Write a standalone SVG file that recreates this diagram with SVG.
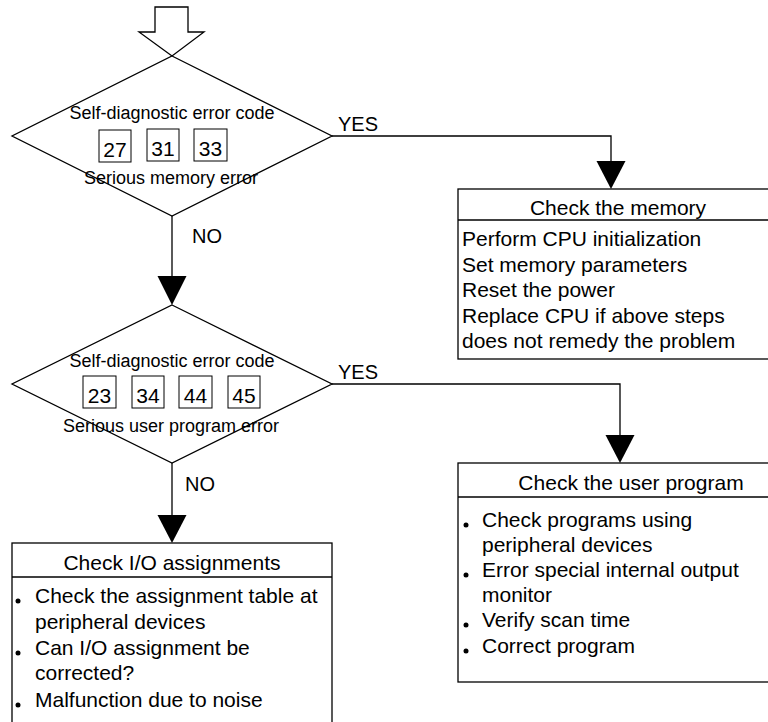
<svg xmlns="http://www.w3.org/2000/svg" width="768" height="722" viewBox="0 0 768 722">
<style>
.ln{fill:none;stroke:#000;stroke-width:1.3}
.shape{fill:#fff;stroke:#000;stroke-width:1.3}
.nb{fill:#fff;stroke:#000;stroke-width:1}
.t{font-family:"Liberation Sans",Arial,sans-serif;fill:#000}
.d{font-size:18px;text-anchor:middle}
.n{font-size:21px;text-anchor:middle}
.b{font-size:21px}
.h{font-size:21px;text-anchor:middle}
.lbl{font-size:20px}
</style>
<g id="start">
<polygon class="shape" points="155,7 188,7 188,32 204,32 172,56 139,32 155,32"/>
</g>
<g id="connectors">
<path class="ln" d="M172,216 V276"/>
<polygon points="157.5,276 186.5,276 172,305" fill="#000"/>
<path class="ln" d="M332,136 H611 V162"/>
<polygon points="596.5,161 625.5,161 611,189" fill="#000"/>
<path class="ln" d="M172,463 V515"/>
<polygon points="157.5,515 186.5,515 172,543" fill="#000"/>
<path class="ln" d="M332,384 H620 V436"/>
<polygon points="605.5,435 634.5,435 620,463" fill="#000"/>
<text class="t lbl" x="338" y="131">YES</text>
<text class="t lbl" x="192" y="243">NO</text>
<text class="t lbl" x="338" y="379">YES</text>
<text class="t lbl" x="185" y="491">NO</text>
</g>
<g id="decision1">
<polygon class="shape" points="172,56 332,136 172,216 12,136"/>
<text class="t d" x="172" y="119">Self-diagnostic error code</text>
<rect class="nb" x="99" y="130" width="32" height="32"/>
<rect class="nb" x="147" y="129" width="32" height="32"/>
<rect class="nb" x="194" y="129" width="33" height="32"/>
<text class="t n" x="115" y="157">27</text>
<text class="t n" x="163" y="156">31</text>
<text class="t n" x="210.5" y="156">33</text>
<text class="t d" x="171" y="184">Serious memory error</text>
</g>
<g id="decision2">
<polygon class="shape" points="172,305 332,384 172,463 12,384"/>
<text class="t d" x="172" y="367">Self-diagnostic error code</text>
<rect class="nb" x="83" y="376" width="33" height="32"/>
<rect class="nb" x="132" y="376" width="32" height="32"/>
<rect class="nb" x="179" y="376" width="33" height="32"/>
<rect class="nb" x="228" y="376" width="32" height="32"/>
<text class="t n" x="99.5" y="403">23</text>
<text class="t n" x="148" y="403">34</text>
<text class="t n" x="195.5" y="403">44</text>
<text class="t n" x="244" y="403">45</text>
<text class="t d" x="171" y="432">Serious user program error</text>
</g>
<g id="memory">
<rect class="shape" x="458" y="189" width="330" height="170"/>
<line class="ln" x1="458" y1="220" x2="788" y2="220"/>
<text class="t h" x="618" y="215">Check the memory</text>
<text class="t b" x="462" y="246">Perform CPU initialization</text>
<text class="t b" x="462" y="272">Set memory parameters</text>
<text class="t b" x="462" y="297">Reset the power</text>
<text class="t b" x="462" y="323">Replace CPU if above steps</text>
<text class="t b" x="462" y="348">does not remedy the problem</text>
</g>
<g id="userprog">
<rect class="shape" x="458" y="463" width="350" height="219"/>
<line class="ln" x1="458" y1="497" x2="808" y2="497"/>
<text class="t h" x="631" y="490">Check the user program</text>
<circle cx="466" cy="525" r="2.5"/>
<text class="t b" x="482" y="527">Check programs using</text>
<text class="t b" x="482" y="552">peripheral devices</text>
<circle cx="466" cy="575" r="2.5"/>
<text class="t b" x="482" y="577">Error special internal output</text>
<text class="t b" x="482" y="602">monitor</text>
<circle cx="466" cy="625" r="2.5"/>
<text class="t b" x="482" y="627">Verify scan time</text>
<circle cx="466" cy="651" r="2.5"/>
<text class="t b" x="482" y="653">Correct program</text>
</g>
<g id="io">
<rect class="shape" x="12" y="543" width="320" height="190"/>
<line class="ln" x1="12" y1="577" x2="332" y2="577"/>
<text class="t h" x="172" y="570">Check I/O assignments</text>
<circle cx="18" cy="601" r="2.5"/>
<text class="t b" x="35" y="603">Check the assignment table at</text>
<text class="t b" x="35" y="629">peripheral devices</text>
<circle cx="18" cy="653" r="2.5"/>
<text class="t b" x="35" y="655">Can I/O assignment be</text>
<text class="t b" x="35" y="680">corrected?</text>
<circle cx="18" cy="705" r="2.5"/>
<text class="t b" x="35" y="707">Malfunction due to noise</text>
</g>
</svg>
